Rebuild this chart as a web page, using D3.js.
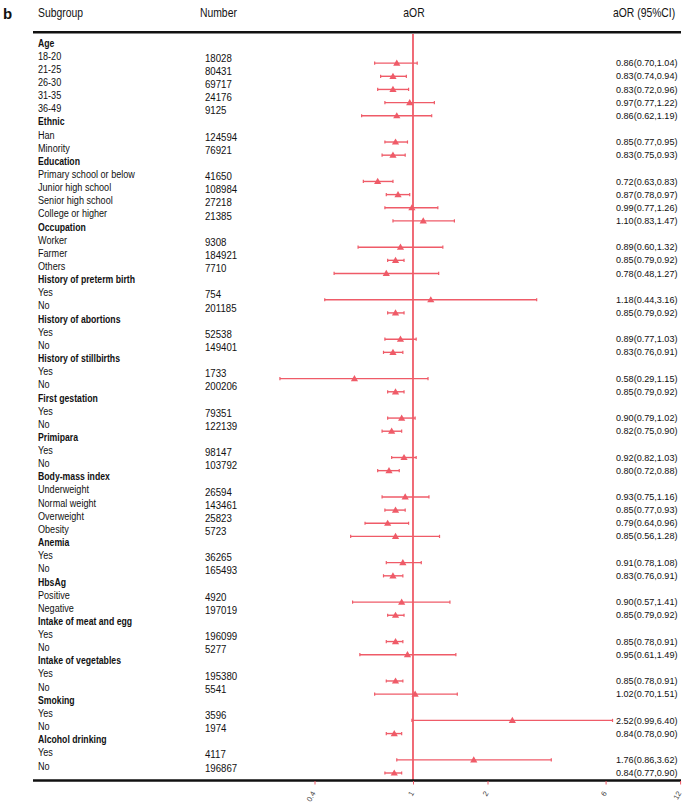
<!DOCTYPE html>
<html>
<head>
<meta charset="utf-8">
<script src="https://cdn.jsdelivr.net/npm/d3@7"></script>
<style>
  html, body { margin: 0; padding: 0; background: #fff; }
  svg { display: block; }
</style>
</head>
<body>
<svg id="chart" width="685" height="805"></svg>
<script>
const groupNames = ["Age", "Ethnic", "Education", "Occupation", "History of preterm birth",
  "History of abortions", "History of stillbirths", "First gestation", "Primipara",
  "Body-mass index", "Anemia", "HbsAg", "Intake of meat and egg", "Intake of vegetables",
  "Smoking", "Alcohol drinking"];
const groupSizes = [5, 2, 4, 3, 2, 2, 2, 2, 2, 4, 2, 2, 2, 2, 2, 2];
const subgroups = ["18-20", "21-25", "26-30", "31-35", "36-49",
  "Han", "Minority",
  "Primary school or below", "Junior high school", "Senior high school", "College or higher",
  "Worker", "Farmer", "Others",
  "Yes", "No", "Yes", "No", "Yes", "No", "Yes", "No", "Yes", "No",
  "Underweight", "Normal weight", "Overweight", "Obesity",
  "Yes", "No", "Positive", "Negative", "Yes", "No", "Yes", "No", "Yes", "No", "Yes", "No"];
const numbers = [18028, 80431, 69717, 24176, 9125,
  124594, 76921,
  41650, 108984, 27218, 21385,
  9308, 184921, 7710,
  754, 201185, 52538, 149401, 1733, 200206, 79351, 122139, 98147, 103792,
  26594, 143461, 25823, 5723,
  36265, 165493, 4920, 197019, 196099, 5277, 195380, 5541, 3596, 1974, 4117, 196867];
const aor = [0.86, 0.83, 0.83, 0.97, 0.86,
  0.85, 0.83,
  0.72, 0.87, 0.99, 1.10,
  0.89, 0.85, 0.78,
  1.18, 0.85, 0.89, 0.83, 0.58, 0.85, 0.90, 0.82, 0.92, 0.80,
  0.93, 0.85, 0.79, 0.85,
  0.91, 0.83, 0.90, 0.85, 0.85, 0.95, 0.85, 1.02, 2.52, 0.84, 1.76, 0.84];
const lower = [0.70, 0.74, 0.72, 0.77, 0.62,
  0.77, 0.75,
  0.63, 0.78, 0.77, 0.83,
  0.60, 0.79, 0.48,
  0.44, 0.79, 0.77, 0.76, 0.29, 0.79, 0.79, 0.75, 0.82, 0.72,
  0.75, 0.77, 0.64, 0.56,
  0.78, 0.76, 0.57, 0.79, 0.78, 0.61, 0.78, 0.70, 0.99, 0.78, 0.86, 0.77];
const upper = [1.04, 0.94, 0.96, 1.22, 1.19,
  0.95, 0.93,
  0.83, 0.97, 1.26, 1.47,
  1.32, 0.92, 1.27,
  3.16, 0.92, 1.03, 0.91, 1.15, 0.92, 1.02, 0.90, 1.03, 0.88,
  1.16, 0.93, 0.96, 1.28,
  1.08, 0.91, 1.41, 0.92, 0.91, 1.49, 0.91, 1.51, 6.40, 0.90, 3.62, 0.90];
const tickValues = [0.4, 1, 2, 6, 12];
const tickLabels = ["0.4", "1", "2", "6", "12"];
const headers = ["Subgroup", "Number", "aOR", "aOR (95%CI)"];

// build row list
const rows = [];
let k = 0;
groupNames.forEach((g, gi) => {
  rows.push({ type: "group", label: g });
  for (let j = 0; j < groupSizes[gi]; j++, k++) {
    rows.push({ type: "item", label: subgroups[k], n: numbers[k], est: aor[k], lo: lower[k], hi: upper[k] });
  }
});

const RED = "#ef5b68";
const FONT = "'Liberation Sans', Arial, sans-serif";
const svg = d3.select("#chart");

// measure helper -> horizontal compression factor so text mimics the narrow original face
function measure(str, size, weight) {
  const t = svg.append("text").attr("font-family", FONT).attr("font-size", size)
    .attr("font-weight", weight || "normal").text(str);
  const w = t.node().getComputedTextLength();
  t.remove();
  return w;
}
const sxLabel = 97 / measure("Primary school or below", 11);
const sxGroup = 97 / measure("History of preterm birth", 11, "bold");
const sxNum = 32.3 / measure("124594", 11);
const sxCI = 61.5 / measure("0.86(0.70,1.04)", 9.6);
const sxHead = 45 / measure("Subgroup", 12.5);

function addText(parent, str, xPos, yPos, size, sx, opts = {}) {
  const g = parent.append("g").attr("transform", `translate(${xPos},${yPos}) scale(${sx},1)`);
  return g.append("text").attr("x", 0).attr("y", 0).attr("dominant-baseline", "central")
    .attr("text-anchor", opts.anchor || "start")
    .attr("font-family", FONT).attr("font-size", size)
    .attr("font-weight", opts.weight || "normal").attr("fill", opts.fill || "#111").text(str);
}

const x = d3.scaleLog().domain([0.4, 12]).range([314.5, 680.1]);
const yRow = d3.scaleLinear().domain([0, rows.length - 1]).range([42.7, 765.7]);
const markOffset = 7.3;
const numOffset = 2.2;

// panel label
svg.append("text").attr("x", 3).attr("y", 13).attr("dominant-baseline", "central")
  .attr("font-family", FONT).attr("font-weight", "bold")
  .attr("font-size", 15).attr("fill", "#111").text("b");

// headers
const hx = [38, 200, 414, 613];
const hAnchor = ["start", "start", "middle", "start"];
headers.forEach((h, i) => addText(svg, h, hx[i], 13, 12.5, sxHead, { anchor: hAnchor[i] }));

// top rule
svg.append("line").attr("x1", 33).attr("x2", 681).attr("y1", 32.3).attr("y2", 32.3)
  .attr("stroke", "#111").attr("stroke-width", 2.6);

// reference line at 1
svg.append("line").attr("x1", x(1)).attr("x2", x(1)).attr("y1", 34).attr("y2", 780)
  .attr("stroke", RED).attr("stroke-width", 1.8);

// left text
const rowG = svg.append("g");
rows.forEach((r, i) => {
  if (r.type === "group") {
    addText(rowG, r.label, 38, yRow(i), 11, sxGroup, { weight: "bold" });
  } else {
    addText(rowG, r.label, 38, yRow(i), 11, sxLabel);
    addText(rowG, String(r.n), 205, yRow(i) + numOffset, 11, sxNum);
  }
});

// forest marks
const items = rows.map((r, i) => ({ ...r, i })).filter(r => r.type === "item");
const mk = svg.append("g");
items.forEach(r => {
  const y = yRow(r.i) + markOffset;
  mk.append("line").attr("x1", x(r.lo)).attr("x2", x(r.hi)).attr("y1", y).attr("y2", y)
    .attr("stroke", RED).attr("stroke-width", 1.4);
  [r.lo, r.hi].forEach(v => {
    mk.append("line").attr("x1", x(v)).attr("x2", x(v)).attr("y1", y - 1.6).attr("y2", y + 1.6)
      .attr("stroke", RED).attr("stroke-width", 1.2);
  });
  const cx = x(r.est);
  mk.append("path").attr("d", `M${cx},${y - 3.6}L${cx + 3.6},${y + 2.6}L${cx - 3.6},${y + 2.6}Z`)
    .attr("fill", RED);
  addText(mk, `${r.est.toFixed(2)}(${r.lo.toFixed(2)},${r.hi.toFixed(2)})`, 616, y, 9.6, sxCI);
});

// bottom rule
svg.append("line").attr("x1", 33).attr("x2", 681).attr("y1", 780.5).attr("y2", 780.5)
  .attr("stroke", "#111").attr("stroke-width", 2.6);

// axis
const axis = d3.axisBottom(x).tickValues(tickValues).tickSize(3.5)
  .tickFormat((d, i) => tickLabels[i]);
const ag = svg.append("g").attr("transform", "translate(0,781)").call(axis);
ag.select(".domain").remove();
ag.selectAll(".tick line").attr("stroke", RED).attr("stroke-width", 1);
ag.selectAll(".tick text")
  .attr("font-family", FONT).attr("font-size", 7.5).attr("fill", "#444")
  .attr("text-anchor", "end").attr("dy", "0.3em")
  .attr("transform", "translate(-1,11) rotate(-60)").attr("y", 0).attr("x", 0);
</script>
</body>
</html>
